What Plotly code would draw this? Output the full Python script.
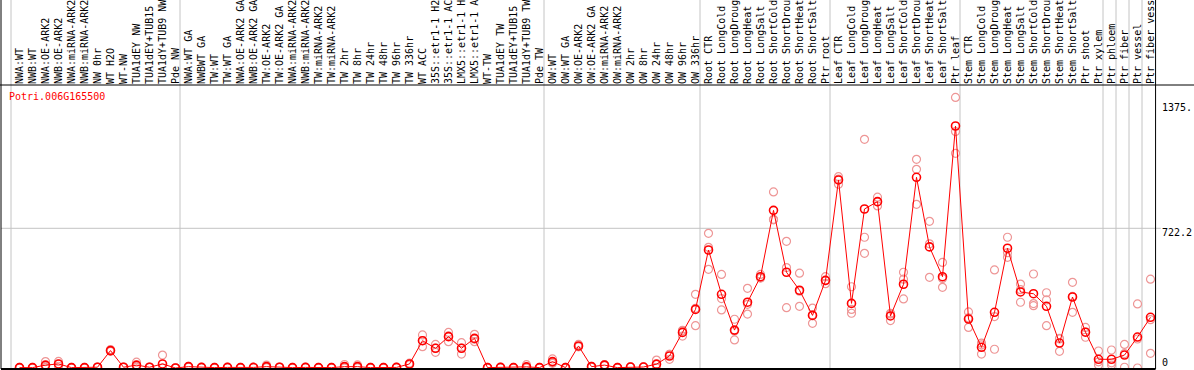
import plotly.graph_objects as go

gene_id = "Potri.006G165500"

# sample labels as they appear in the reference (long names are cut at the top edge there)
labels = [
    "NWA:WT", "NWB:WT", "NWA:OE-ARK2", "NWB:OE-ARK2", "NWA:miRNA-ARK2", "NWB:miRNA-ARK2",
    "NW 0hr", "WT H2O", "WT-NW", "TUA1dEY NW", "TUA1dEY+TUB15", "TUA1dY+TUB9 NW", "Pde NW",
    "NWA:WT GA", "NWBWT GA", "TW:WT", "TW:WT GA", "NWA:OE-ARK2 GA", "NWB:OE-ARK2 GA",
    "TW:OE-ARK2", "TW:OE-ARK2 GA", "NWA:miRNA-ARK2", "NWB:miRNA-ARK2", "TW:miRNA-ARK2",
    "TW:miRNA-ARK2", "TW 2hr", "TW 8hr", "TW 24hr", "TW 48hr", "TW 96hr", "TW 336hr",
    "WT ACC", "35S::etr1-1 H2", "35S::etr1-1 AC", "LMX5::etr1-1 H", "LMX5::etr1-1 A",
    "WT-TW", "TUA1dEY TW", "TUA1dEY+TUB15", "TUA1dY+TUB9 TW", "Pde TW",
    "OW:WT", "OW:WT GA", "OW:OE-ARK2", "OW:OE-ARK2 GA", "OW:miRNA-ARK2", "OW:miRNA-ARK2",
    "OW 2hr", "OW 8hr", "OW 24hr", "OW 48hr", "OW 96hr", "OW 336hr",
    "Root CTR", "Root LongCold", "Root LongDroug", "Root LongHeat", "Root LongSalt",
    "Root ShortCold", "Root ShortDrou", "Root ShortHeat", "Root ShortSalt", "Ptr root",
    "Leaf CTR", "Leaf LongCold", "Leaf LongDroug", "Leaf LongHeat", "Leaf LongSalt",
    "Leaf ShortCold", "Leaf ShortDrou", "Leaf ShortHeat", "Leaf ShortSalt", "Ptr leaf",
    "Stem CTR", "Stem LongCold", "Stem LongDroug", "Stem LongHeat", "Stem LongSalt",
    "Stem ShortCold", "Stem ShortDrou", "Stem ShortHeat", "Stem ShortSalt", "Ptr shoot",
    "Ptr xylem", "Ptr phloem", "Ptr fiber", "Ptr vessel", "Ptr fiber vess",
]

mean_expr = [
    2, 2, 15, 21, 2, 2, 4, 90, 4, 15, 4, 21, 0,
    7, 3, 2, 3, 2, 3, 7, 4, 2, 3, 2, 2, 7, 7, 2, 2, 3, 21,
    141, 102, 162, 102, 153, 2, 3, 2, 6, 2,
    33, 2, 114, 7, 15, 2, 5, 5, 20, 62, 184, 303,
    610, 381, 196, 340, 472, 815, 495, 402, 272, 453,
    972, 334, 822, 860, 269, 433, 986, 626, 472, 1251,
    253, 107, 288, 619, 393, 384, 319, 129, 367, 185, 45,
    45, 67, 160, 262,
]

rep_a = [
    2, 2, 33, 34, 3, 3, 5, 95, 5, 30, 5, 67, 1,
    9, 4, 3, 4, 3, 4, 15, 5, 3, 4, 3, 3, 18, 16, 3, 3, 4, 25,
    171, 122, 184, 131, 174, 3, 4, 3, 17, 3,
    47, 3, 122, 9, 18, 3, 6, 6, 41, 45, 165, 381,
    696, 484, 252, 412, 484, 910, 655, 490, 310, 472,
    989, 420, 1182, 883, 283, 495, 1079, 758, 546, 1399,
    290, 72, 507, 676, 434, 486, 389, 153, 443, 210, 88,
    93, 122, 331, 459,
]

rep_b = [
    3, 3, 10, 20, 2, 2, 4, 86, 4, 10, 4, 0, 0,
    7, 3, 2, 3, 2, 3, 4, 4, 2, 3, 2, 2, 2, 3, 2, 2, 3, 22,
    110, 81, 136, 72, 136, 2, 3, 2, 1, 2,
    28, 2, 110, 7, 15, 2, 5, 5, 18, 70, 192, 219,
    510, 300, 145, 279, 465, 769, 519, 319, 231, 436,
    950, 303, 676, 838, 245, 357, 1027, 469, 417, 1110,
    210, 120, 97, 572, 340, 322, 352, 86, 288, 159, 15,
    15, 4, 0, 76,
]

rep_c = [
    1, 1, 3, 9, 1, 1, 3, 89, 3, 5, 3, 0, 0,
    5, 2, 1, 2, 1, 2, 2, 3, 1, 2, 1, 1, 1, 2, 1, 1, 2, 16,
    142, 103, 166, 103, 149, 1, 2, 1, 0, 1,
    24, 1, 110, 5, 12, 1, 4, 4, 1, 71, 195, 309,
    624, 359, 191, 329, 467, 766, 312, 397, 275, 451,
    977, 283, 593, 859, 279, 459, 846, 642, 463, 1222,
    259, 129, 266, 596, 405, 333, 219, 150, 370, 186, 32,
    27, 75, 150, 250,
]

group_starts = [0, 13, 41, 53, 63, 73, 84, 85, 86, 87]
y_ticks = [0, 722.2, 1375]
y_tick_text = ["0", "722.2", "1375."]

FONT = "DejaVu Sans Mono"
RED = "#FF0000"
PINK = "#EE9696"
GRAY = "#C4C4C4"

x_idx = list(range(len(labels)))

fig = go.Figure()

rep_x, rep_y = [], []
for reps in (rep_a, rep_b, rep_c):
    rep_x += x_idx
    rep_y += reps

fig.add_trace(go.Scatter(
    x=rep_x, y=rep_y, mode="markers",
    marker=dict(symbol="circle-open", size=8, color=PINK, line=dict(width=1.2, color=PINK)),
    cliponaxis=False, showlegend=False, hoverinfo="skip",
))
fig.add_trace(go.Scatter(
    x=x_idx, y=mean_expr, mode="lines+markers",
    line=dict(color=RED, width=1),
    marker=dict(symbol="circle-open", size=8, color=RED, line=dict(width=1.6, color=RED)),
    cliponaxis=False, showlegend=False,
))

shapes = []
# group separators
for k in group_starts:
    shapes.append(dict(type="line", xref="x", yref="paper", x0=k - 0.654, x1=k - 0.654,
                       y0=0, y1=1.31, line=dict(color=GRAY, width=1), layer="below"))
# gridline at middle tick
shapes.append(dict(type="line", xref="paper", yref="y", x0=0, x1=1.005,
                   y0=y_ticks[1], y1=y_ticks[1], line=dict(color=GRAY, width=1), layer="below"))
# frame lines
shapes.append(dict(type="line", xref="paper", yref="paper", x0=-0.002, x1=1.04, y0=1, y1=1,
                   line=dict(color="black", width=1)))
shapes.append(dict(type="line", xref="paper", yref="paper", x0=0, x1=0, y0=0, y1=1.31,
                   line=dict(color="black", width=1)))
shapes.append(dict(type="line", xref="paper", yref="paper", x0=1.0005, x1=1.0005, y0=0, y1=1.31,
                   line=dict(color="black", width=1)))
shapes.append(dict(type="line", xref="paper", yref="paper", x0=0, x1=1.0005, y0=0, y1=0,
                   line=dict(color="black", width=2)))

annotations = [dict(text=gene_id, xref="paper", yref="paper", x=0, y=1, xanchor="left",
                    yanchor="top", xshift=6, yshift=-4, showarrow=False,
                    font=dict(family=FONT, size=10, color=RED))]
shifts = [6, -4, -5]
for v, t, s in zip(y_ticks, y_tick_text, shifts):
    annotations.append(dict(text=t, xref="paper", yref="y", x=1, y=v, xanchor="left",
                            yanchor="middle", xshift=5, yshift=s, showarrow=False,
                            font=dict(family=FONT, size=10, color="black")))

fig.update_layout(
    width=1194, height=370,
    margin=dict(l=1, r=39, t=85, b=1, autoexpand=False),
    paper_bgcolor="white", plot_bgcolor="white",
    shapes=shapes, annotations=annotations,
    xaxis=dict(side="top", tickmode="array", tickvals=x_idx, ticktext=labels, automargin=False,
               tickangle=-90, ticks="", showgrid=False, zeroline=False, showline=False,
               range=[-1.423, 87.346], tickfont=dict(family=FONT, size=10, color="black")),
    yaxis=dict(range=[-5.17, 1463], showgrid=False, zeroline=False, showline=False,
               automargin=False, showticklabels=False, ticks=""),
)

fig.write_html("out.html", config={"displayModeBar": False},
               post_script="document.body.style.margin='0';")
